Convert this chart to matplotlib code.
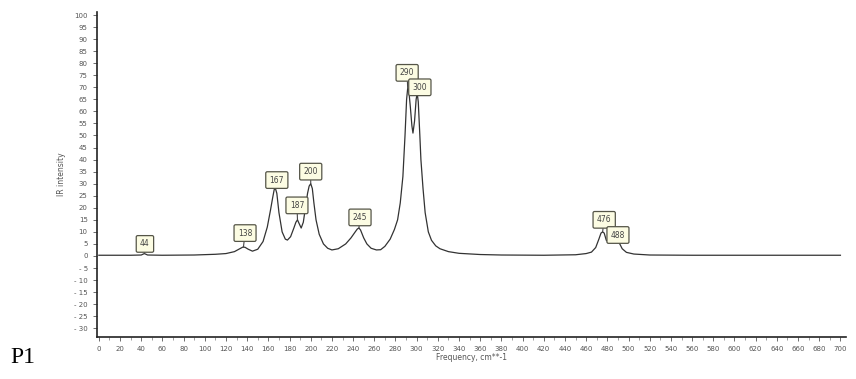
import matplotlib
matplotlib.use("Agg")
import matplotlib.pyplot as plt
from matplotlib.ticker import MultipleLocator, FuncFormatter

# spectrum trace
freq = [0, 30, 40, 43, 46, 60, 90, 110, 120, 128, 133, 136, 138, 141, 145, 150, 155, 159, 162,
        164, 165.5, 166.5, 168, 170, 173, 176, 178, 181, 184, 186, 187.5, 189, 191, 193, 195, 197,
        198.5, 200, 201.5, 203, 205, 208, 212, 216, 220, 226, 233, 238, 242, 244, 245.5, 247, 250,
        253, 257, 262, 266, 270, 275, 279, 282, 284.5, 287, 289, 290.5, 291.5, 292.5, 294, 295.5,
        296.5, 298, 299.5, 300.5, 301.5, 303, 304, 306, 308, 311, 314, 318, 322, 330, 340, 360,
        380, 420, 450, 460, 465, 469, 472, 474, 475.5, 477, 479, 481, 484, 486, 487.5, 490, 494,
        498, 505, 520, 560, 700]
inten = [0.3, 0.3, 0.4, 1.0, 0.4, 0.3, 0.4, 0.7, 1.0, 1.8, 3.0, 3.7, 3.6, 2.8, 2.0, 2.8, 6, 12, 19,
         24, 27.5, 28.3, 26, 18, 10, 7, 6.6, 8, 11.5, 14, 15, 13.5, 11.6, 14, 20, 26,
         29, 30, 28, 22, 15, 9, 5, 3.2, 2.5, 3, 5, 7.5, 10, 11.2, 11.6, 10.8, 7.5,
         5, 3.2, 2.5, 2.6, 4, 7, 11, 15, 22, 33, 50, 65, 69.5, 69, 62, 54,
         51, 56, 65, 67.5, 64, 50, 40, 28, 18, 10, 6.5, 4.2, 3.0, 1.8, 1.1, 0.6,
         0.4, 0.3, 0.5, 1.0, 1.6, 3.5, 7, 9.5, 10, 9.5, 6.5, 5.8, 7, 7.8, 8, 6.5, 3,
         1.5, 0.8, 0.4, 0.3, 0.3]

# peak labels: text, apex position, label position
peak_labels = ["44", "138", "167", "187", "200", "245", "290", "300", "476", "488"]
peak_x = [43, 136.5, 166.5, 187.5, 200, 245.5, 291.5, 300.5, 475.5, 487.5]
peak_y = [1.0, 3.7, 28.3, 15, 30, 11.6, 69.5, 67.5, 10, 8]
label_x = [43.5, 138, 168, 187, 200, 246.5, 291, 303, 477, 490]
label_y = [5, 9.5, 31.5, 21, 35, 16, 76, 70, 15, 8.7]

x_ticks = list(range(0, 701, 20))
y_ticks = list(range(-30, 101, 5))

fig = plt.figure(figsize=(8.56, 3.79), dpi=100)
ax = fig.add_axes([0.113, 0.111, 0.875, 0.857])
ax.plot(freq, inten, color="#333333", lw=0.9)

for t, px, py, lx, ly in zip(peak_labels, peak_x, peak_y, label_x, label_y):
    ax.annotate(t, xy=(px, py), xytext=(lx, ly), ha="center", va="center",
                fontsize=5.5, color="#444444",
                bbox=dict(boxstyle="round,pad=0.5,rounding_size=0.2", fc="#fcfce3", ec="#555548", lw=0.9),
                arrowprops=dict(arrowstyle="-", color="#444444", lw=0.8, shrinkA=0, shrinkB=0))

ax.set_xlim(-2, 705)
ax.set_ylim(-33.6, 101.2)
ax.set_xticks(x_ticks)
ax.set_yticks(y_ticks)
ax.yaxis.set_major_formatter(FuncFormatter(lambda v, p: ("- %d" % abs(v)) if v < 0 else "%d" % v))
ax.xaxis.set_minor_locator(MultipleLocator(10))
ax.tick_params(axis="both", which="major", labelsize=5, colors="#555555", length=3, width=0.6,
               direction="out")
ax.tick_params(axis="both", which="minor", length=2, width=0.5, colors="#777777")
for s in ["top", "right"]:
    ax.spines[s].set_visible(False)
for s in ["left", "bottom"]:
    ax.spines[s].set_color("#222222")
    ax.spines[s].set_linewidth(1.2)

ax.set_xlabel("Frequency, cm**-1", fontsize=5.5, color="#555555", labelpad=1)
ax.set_ylabel("IR intensity", fontsize=5.5, color="#555555", labelpad=6)

fig.text(0.012, 0.042, "P1", fontsize=17, family="Liberation Serif", color="black")

fig.savefig("out.png", dpi=100)
